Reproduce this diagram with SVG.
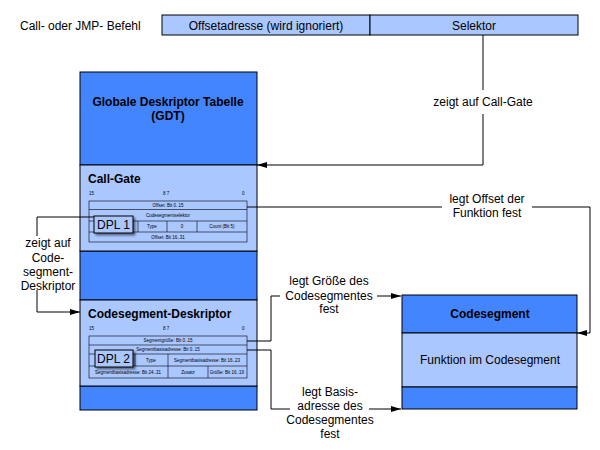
<svg xmlns="http://www.w3.org/2000/svg" width="600" height="450" viewBox="0 0 600 450">
<defs>
<style>
text{font-family:"Liberation Sans",Arial,sans-serif;fill:#000}
.t{font-size:12px}
.b{font-size:12px;font-weight:bold}
.s{font-size:4.5px;text-anchor:middle}
.n{font-size:4.5px}
.dk{fill:#4385ff;stroke:#000;stroke-width:1}
.lt{fill:#abc7ff;stroke:#000;stroke-width:1}
.tb{fill:none;stroke:#000;stroke-width:0.6}
.c{fill:none;stroke:#000;stroke-width:1}
.m{text-anchor:middle}
</style>
<marker id="ah" viewBox="0 0 10 6" refX="10" refY="3" markerWidth="10" markerHeight="6" markerUnits="userSpaceOnUse" orient="auto"><path d="M0,0 L10,3 L0,6 z" fill="#000"/></marker>
<filter id="sh" x="-20%" y="-20%" width="150%" height="160%"><feDropShadow dx="2" dy="2" stdDeviation="1" flood-color="#000" flood-opacity="0.5"/></filter>
</defs>
<rect width="600" height="450" fill="#fff"/>

<g id="befehl">
<text class="t" x="20" y="30">Call- oder JMP- Befehl</text>
<rect class="lt" x="162" y="15" width="208" height="20"/>
<text class="t m" x="266" y="30">Offsetadresse (wird ignoriert)</text>
<rect class="lt" x="370" y="15" width="208" height="20"/>
<text class="t m" x="474" y="30">Selektor</text>
</g>

<g id="gdt">
<rect class="dk" x="80" y="72" width="177" height="93"/>
<text class="b m" x="168" y="106">Globale Deskriptor Tabelle</text>
<text class="b m" x="168" y="120">(GDT)</text>
<rect class="dk" x="80" y="251" width="177" height="49"/>
<rect class="dk" x="80" y="386" width="177" height="24"/>
</g>

<g id="callgate">
<rect class="lt" x="80" y="165" width="177" height="86"/>
<text class="b" x="88" y="183">Call-Gate</text>
<text class="n" x="89" y="195">15</text>
<text class="n" x="163" y="195">8 7</text>
<text class="n" x="242" y="195">0</text>
<rect class="tb" x="89" y="201" width="158" height="41"/>
<line class="tb" x1="89" y1="209.5" x2="247" y2="209.5"/>
<line class="tb" x1="89" y1="221" x2="247" y2="221"/>
<line class="tb" x1="89" y1="232" x2="247" y2="232"/>
<line class="tb" x1="138" y1="221" x2="138" y2="232"/>
<line class="tb" x1="167" y1="221" x2="167" y2="232"/>
<line class="tb" x1="197" y1="221" x2="197" y2="232"/>
<text class="s" x="168" y="207">Offset: Bit 0..15</text>
<text class="s" x="168" y="217">Codesegmentselektor</text>
<text class="s" x="152" y="228">Type</text>
<text class="s" x="182" y="228">0</text>
<text class="s" x="222" y="228">Count (Bit 5)</text>
<text class="s" x="168" y="239">Offset: Bit 16..31</text>
<g id="dpl1">
<rect x="94" y="216" width="39" height="17" fill="#abc7ff" stroke="#000" stroke-width="1" filter="url(#sh)"/>
<text class="t" x="97" y="229">DPL 1</text>
</g>
</g>

<g id="codedesk">
<rect class="lt" x="80" y="300" width="177" height="86"/>
<text class="b" x="88" y="318">Codesegment-Deskriptor</text>
<text class="n" x="89" y="330">15</text>
<text class="n" x="163" y="330">8 7</text>
<text class="n" x="242" y="330">0</text>
<rect class="tb" x="89" y="336" width="158" height="42"/>
<line class="tb" x1="89" y1="345" x2="247" y2="345"/>
<line class="tb" x1="89" y1="354" x2="247" y2="354"/>
<line class="tb" x1="89" y1="366" x2="247" y2="366"/>
<line class="tb" x1="135" y1="354" x2="135" y2="366"/>
<line class="tb" x1="168" y1="354" x2="168" y2="378"/>
<line class="tb" x1="208" y1="366" x2="208" y2="378"/>
<text class="s" x="168" y="342">Segmentgröße: Bit 0..15</text>
<text class="s" x="168" y="351">Segmentbasisadresse: Bit 0..15</text>
<text class="s" x="151" y="362">Type</text>
<text class="s" x="207" y="362">Segmentbasisadresse: Bit 16..23</text>
<text class="s" x="128" y="374">Segmentbasisadresse: Bit 24..31</text>
<text class="s" x="188" y="374">Zusatz</text>
<text class="s" x="227" y="374">Größe: Bit 16..19</text>
<g id="dpl2">
<rect x="95" y="350" width="38" height="17" fill="#abc7ff" stroke="#000" stroke-width="1" filter="url(#sh)"/>
<text class="t" x="97" y="363">DPL 2</text>
</g>
</g>

<g id="codesegment">
<rect class="dk" x="402" y="295" width="175" height="38"/>
<text class="b m" x="490" y="318">Codesegment</text>
<rect class="lt" x="402" y="333" width="175" height="54"/>
<text class="t m" x="490" y="364">Funktion im Codesegment</text>
<rect class="dk" x="402" y="387" width="175" height="22"/>
</g>

<g id="connectors">
<path class="c" d="M483,35 V90"/>
<path class="c" d="M483,114 V165 H257" marker-end="url(#ah)"/>
<text class="t m" x="483" y="106">zeigt auf Call-Gate</text>

<path class="c" d="M247,207 H442"/>
<path class="c" d="M532,207 H590 V333 H577" marker-end="url(#ah)"/>
<text class="t m" x="487" y="203">legt Offset der</text>
<text class="t m" x="487" y="217">Funktion fest</text>

<path class="c" d="M94,217 H37 V236"/>
<path class="c" d="M37,290 V312 H80" marker-end="url(#ah)"/>
<text class="t m" x="48" y="247">zeigt auf</text>
<text class="t m" x="48" y="262">Code-</text>
<text class="t m" x="48" y="276">segment-</text>
<text class="t m" x="48" y="290">Deskriptor</text>

<path class="c" d="M247,341 H271 V296 H280"/>
<path class="c" d="M377,296 H401" marker-end="url(#ah)"/>
<text class="t m" x="329" y="285">legt Größe des</text>
<text class="t m" x="329" y="300">Codesegmentes</text>
<text class="t m" x="329" y="313">fest</text>

<path class="c" d="M247,350 H271 V409 H290"/>
<path class="c" d="M369,409 H401" marker-end="url(#ah)"/>
<text class="t m" x="330" y="396">legt Basis-</text>
<text class="t m" x="330" y="410">adresse des</text>
<text class="t m" x="330" y="424">Codesegmentes</text>
<text class="t m" x="330" y="438">fest</text>
</g>
</svg>
